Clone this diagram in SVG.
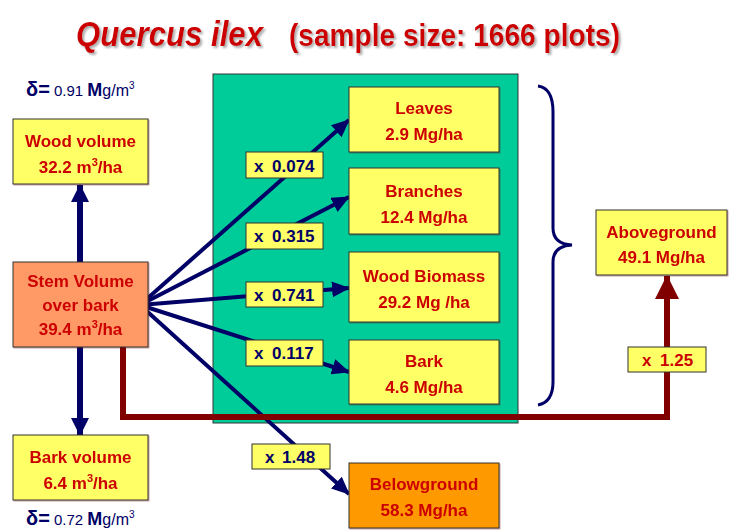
<svg xmlns="http://www.w3.org/2000/svg" width="730" height="531" viewBox="0 0 730 531">
  <style>
    .box { stroke: #333333; stroke-width: 1; }
    .yellow { fill: #FFFF66; }
    .salmon { fill: #FF9966; }
    .orange { fill: #FF9900; }
    .green { fill: #00CC99; }
    .node { font-family: "Liberation Sans", Arial, sans-serif; font-weight: bold; font-size: 17px; fill: #CC0000; text-anchor: middle; }
    .lbl { font-family: "Liberation Sans", Arial, sans-serif; font-weight: bold; font-size: 17px; fill: #000066; }
    .lblr { fill: #CC0000; }
    .dens { font-family: "Liberation Sans", Arial, sans-serif; fill: #000066; }
    .fan { stroke: #000066; stroke-width: 4; fill: none; }
    .vert { stroke: #000066; stroke-width: 6; fill: none; }
    .agg { stroke: #800000; stroke-width: 6; fill: none; }
  </style>
  <defs>
    <marker id="navyHead" markerUnits="userSpaceOnUse" markerWidth="18" markerHeight="16" refX="17" refY="8" orient="auto">
      <path d="M0,0 L18,8 L0,16 Z" fill="#000066"/>
    </marker>
    <marker id="bigNavyHead" markerUnits="userSpaceOnUse" markerWidth="18" markerHeight="18" refX="17" refY="9" orient="auto">
      <path d="M0,0 L18,9 L0,18 Z" fill="#000066"/>
    </marker>
    <marker id="redHead" markerUnits="userSpaceOnUse" markerWidth="24" markerHeight="24" refX="23" refY="12" orient="auto">
      <path d="M0,0 L24,12 L0,24 Z" fill="#800000"/>
    </marker>
    <filter id="shadow" x="-5%" y="-20%" width="110%" height="140%">
      <feDropShadow dx="2" dy="2" stdDeviation="1" flood-color="#999999" flood-opacity="0.8"/>
    </filter>
    <filter id="soft" x="-5%" y="-20%" width="110%" height="140%">
      <feDropShadow dx="1" dy="1" stdDeviation="0.5" flood-color="#660000" flood-opacity="0.35"/>
    </filter>
  </defs>

  <rect width="730" height="531" fill="#FFFFFF"/>

  <!-- Title (condensed bold face) -->
  <g id="title" filter="url(#shadow)">
    <text x="76" y="46" font-family="Liberation Sans, Arial, sans-serif" font-weight="bold" font-style="italic" font-size="35" fill="#CC0000" textLength="187" lengthAdjust="spacingAndGlyphs">Quercus ilex</text>
    <text x="289" y="46" font-family="Liberation Sans, Arial, sans-serif" font-weight="bold" font-size="32" fill="#CC0000" textLength="331" lengthAdjust="spacingAndGlyphs">(sample size: 1666 plots)</text>
  </g>

  <!-- Biomass compartment panel -->
  <rect id="panel" class="box green" x="213" y="74" width="305" height="349"/>

  <!-- Connectors -->
  <g id="connectors">
    <line class="fan" x1="140" y1="305" x2="349" y2="120" marker-end="url(#navyHead)"/>
    <line class="fan" x1="140" y1="305" x2="349" y2="197" marker-end="url(#navyHead)"/>
    <line class="fan" x1="140" y1="305" x2="349" y2="288" marker-end="url(#navyHead)"/>
    <line class="fan" x1="140" y1="305" x2="349" y2="372" marker-end="url(#navyHead)"/>
    <line class="fan" x1="140" y1="305" x2="349" y2="494" marker-end="url(#navyHead)"/>
    <line class="vert" x1="80" y1="262" x2="80" y2="185" marker-end="url(#bigNavyHead)"/>
    <line class="vert" x1="80" y1="347" x2="80" y2="435" marker-end="url(#bigNavyHead)"/>
    <path class="agg" d="M123,347 V417 H667 V276" marker-end="url(#redHead)"/>
    <!-- brace grouping the aboveground compartments -->
    <path d="M538,86 Q553,88 553,112 V228 Q553,244 572,245 Q553,246 553,262 V382 Q553,402 538,405" stroke="#000066" stroke-width="3" fill="none"/>
  </g>

  <!-- Factor labels -->
  <g id="f0074"><rect class="box yellow" x="246" y="152" width="77" height="26"/><text class="lbl" y="172"><tspan x="254">x</tspan><tspan x="272">0.074</tspan></text></g>
  <g id="f0315"><rect class="box yellow" x="246" y="223" width="77" height="26"/><text class="lbl" y="242"><tspan x="254">x</tspan><tspan x="272">0.315</tspan></text></g>
  <g id="f0741"><rect class="box yellow" x="246" y="282" width="77" height="25"/><text class="lbl" y="301"><tspan x="254">x</tspan><tspan x="272">0.741</tspan></text></g>
  <g id="f0117"><rect class="box yellow" x="246" y="340" width="77" height="26"/><text class="lbl" y="359"><tspan x="254">x</tspan><tspan x="272">0.117</tspan></text></g>
  <g id="f148"><rect class="box yellow" x="252" y="444" width="78" height="25"/><text class="lbl" y="463"><tspan x="265">x</tspan><tspan x="282">1.48</tspan></text></g>
  <g id="f125"><rect class="box yellow" x="628" y="347" width="78" height="25"/><text class="lbl lblr" y="366"><tspan x="642">x</tspan><tspan x="660">1.25</tspan></text></g>

  <!-- Volume nodes -->
  <g id="woodVolume" filter="url(#soft)">
    <rect class="box yellow" x="13" y="119" width="135" height="65"/>
    <text class="node" x="80.5" y="147">Wood volume</text>
    <text class="node" x="80.5" y="173">32.2 m<tspan font-size="11" dy="-7">3</tspan><tspan dy="7">/ha</tspan></text>
  </g>
  <g id="stemVolume" filter="url(#soft)">
    <rect class="box salmon" x="13" y="262" width="135" height="85"/>
    <text class="node" x="80.5" y="287">Stem Volume</text>
    <text class="node" x="80.5" y="311">over bark</text>
    <text class="node" x="80.5" y="335">39.4 m<tspan font-size="11" dy="-7">3</tspan><tspan dy="7">/ha</tspan></text>
  </g>
  <g id="barkVolume" filter="url(#soft)">
    <rect class="box yellow" x="13" y="435" width="135" height="65"/>
    <text class="node" x="80.5" y="463">Bark volume</text>
    <text class="node" x="80.5" y="489">6.4 m<tspan font-size="11" dy="-7">3</tspan><tspan dy="7">/ha</tspan></text>
  </g>

  <!-- Densities -->
  <g id="woodDensity">
    <text class="dens" x="26" y="96"><tspan font-size="20" font-weight="bold">δ=</tspan><tspan font-size="15"> 0.91 </tspan><tspan font-size="18" font-weight="bold">M</tspan><tspan font-size="16">g/m</tspan><tspan font-size="10" dy="-7">3</tspan></text>
  </g>
  <g id="barkDensity">
    <text class="dens" x="26" y="525"><tspan font-size="20" font-weight="bold">δ=</tspan><tspan font-size="15"> 0.72 </tspan><tspan font-size="18" font-weight="bold">M</tspan><tspan font-size="16">g/m</tspan><tspan font-size="10" dy="-7">3</tspan></text>
  </g>

  <!-- Biomass nodes -->
  <g id="leaves" filter="url(#soft)">
    <rect class="box yellow" x="349" y="87" width="150" height="65"/>
    <text class="node" x="424" y="114">Leaves</text>
    <text class="node" x="424" y="140">2.9 Mg/ha</text>
  </g>
  <g id="branches" filter="url(#soft)">
    <rect class="box yellow" x="349" y="168" width="150" height="66"/>
    <text class="node" x="424" y="197">Branches</text>
    <text class="node" x="424" y="223">12.4 Mg/ha</text>
  </g>
  <g id="woodBiomass" filter="url(#soft)">
    <rect class="box yellow" x="349" y="252" width="150" height="70"/>
    <text class="node" x="424" y="282">Wood Biomass</text>
    <text class="node" x="424" y="308">29.2 Mg /ha</text>
  </g>
  <g id="bark" filter="url(#soft)">
    <rect class="box yellow" x="349" y="340" width="150" height="64"/>
    <text class="node" x="424" y="367">Bark</text>
    <text class="node" x="424" y="393">4.6 Mg/ha</text>
  </g>
  <g id="belowground" filter="url(#soft)">
    <rect class="box orange" x="349" y="463" width="150" height="65"/>
    <text class="node" x="424" y="490">Belowground</text>
    <text class="node" x="424" y="516">58.3 Mg/ha</text>
  </g>
  <g id="aboveground" filter="url(#soft)">
    <rect class="box yellow" x="596" y="210" width="131" height="65"/>
    <text class="node" x="661.5" y="238">Aboveground</text>
    <text class="node" x="661.5" y="263">49.1 Mg/ha</text>
  </g>
</svg>
